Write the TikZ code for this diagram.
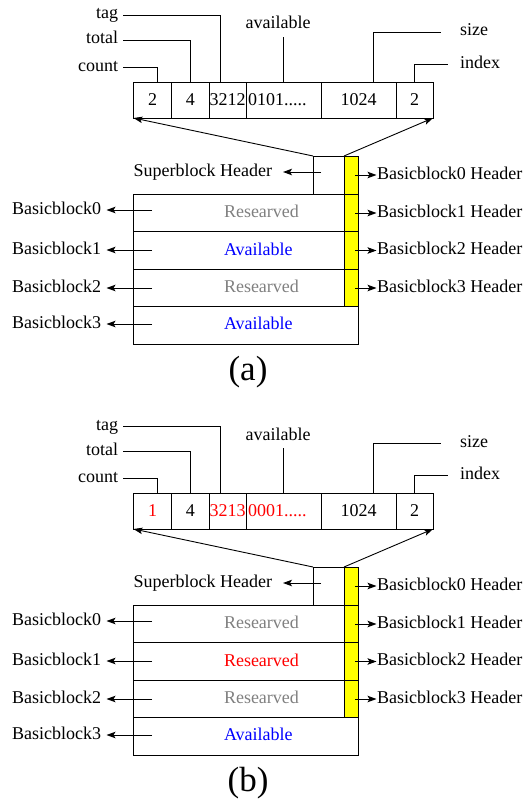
\documentclass[tikz,border=0pt]{standalone}
\usepackage{fontspec}
\setmainfont{Liberation Serif}
\usetikzlibrary{arrows.meta,calc}
\definecolor{resgray}{RGB}{128,128,128}
\definecolor{ylw}{RGB}{255,255,0}
\tikzset{
  cell/.style={draw, line width=1pt, minimum height=36pt, inner sep=0pt, outer sep=0pt},
  box/.style={draw, line width=1pt, inner sep=0pt, outer sep=0pt},
  ybox/.style={box, fill=ylw},
  lbl/.style={inner sep=0pt, outer sep=0pt, text height=12pt, text depth=4pt},
  lead/.style={line width=0.9pt},
  arr/.style={line width=0.9pt, -{Stealth[length=9pt,width=6.5pt,inset=2pt]}},
  captext/.style={inner sep=0pt, font=\fontsize{35}{40}\selectfont},
}
\newcommand\mypanel[7]{%
\begin{scope}[shift={(0,#2)}]
  % header record
  \node[cell, minimum width=38pt]   (#1c1) at (152.5,100)  {#3};
  \node[cell, minimum width=37.5pt] (#1c2) at (190.25,100) {4};
  \node[cell, minimum width=37pt]   (#1c3) at (227.5,100)  {#4};
  \node[cell, minimum width=75pt, text width=71pt, align=left] (#1c4) at (283.5,100) {#5};
  \node[cell, minimum width=75pt]   (#1c5) at (358.5,100)  {1024};
  \node[cell, minimum width=37pt]   (#1c6) at (414.5,100)  {2};
  % field labels
  \node[lbl, anchor=east] (#1tag)   at (118,15) {tag};
  \node[lbl, anchor=east] (#1total) at (118,40) {total};
  \node[lbl, anchor=east] (#1count) at (118,67) {count};
  \node[lbl]              (#1avl)   at (278,25) {available};
  \node[lbl, anchor=west] (#1size)  at (460,32) {size};
  \node[lbl, anchor=west] (#1index) at (460,64) {index};
  \draw[lead] ([xshift=5pt]#1count.east) -| ([xshift=4.5pt]#1c1.north);
  \draw[lead] ([xshift=5pt]#1total.east) -| (#1c2.north);
  \draw[lead] ([xshift=5pt]#1tag.east) -| ([xshift=-7.5pt]#1c3.north);
  \draw[lead] (#1c4.north) -- ([yshift=-4pt]#1c4.north |- #1avl.south);
  \draw[lead] ([xshift=14.5pt]#1c5.north) |- ([xshift=-19pt]#1size.west);
  \draw[lead] (#1c6.north) |- ([xshift=-12pt]#1index.west);
  % block
  \node[box, minimum width=31pt, minimum height=38pt] (#1sb) at (328.5,175) {};
  \node[ybox, minimum width=14.5pt, minimum height=38pt] (#1y0) at (351.25,175) {};
  \node[box, minimum width=210.5pt, minimum height=37.5pt] (#1r0) at (238.75,212.75) {};
  \node[box, minimum width=210.5pt, minimum height=37.5pt] (#1r1) at (238.75,250.25) {};
  \node[box, minimum width=210.5pt, minimum height=37.5pt] (#1r2) at (238.75,287.75) {};
  \node[ybox, minimum width=14.5pt, minimum height=37.5pt] (#1y1) at (351.25,212.75) {};
  \node[ybox, minimum width=14.5pt, minimum height=37.5pt] (#1y2) at (351.25,250.25) {};
  \node[ybox, minimum width=14.5pt, minimum height=37.5pt] (#1y3) at (351.25,287.75) {};
  \node[box, minimum width=225pt, minimum height=37.5pt] (#1r3) at (246,325.25) {};
  \node[lbl, anchor=west, text=resgray] (#1t0) at (224,213.5) {Researved};
  \node[lbl, anchor=west] (#1t1) at (224,251) {#6};
  \node[lbl, anchor=west, text=resgray] (#1t2) at (224,288.5) {Researved};
  \node[lbl, anchor=west, text=blue] (#1t3) at (224,325.25) {Available};
  % pointers from header record
  \draw[arr] (#1sb.north west) -- (#1c1.south west);
  \draw[arr] (#1y0.north west) -- (#1c6.south east);
  % left labels
  \node[lbl, anchor=east] (#1SH) at (272,172) {Superblock Header};
  \node[lbl, anchor=east] (#1L0) at (101,210) {Basicblock0};
  \node[lbl, anchor=east] (#1L1) at (101,250) {Basicblock1};
  \node[lbl, anchor=east] (#1L2) at (101,288) {Basicblock2};
  \node[lbl, anchor=east] (#1L3) at (101,324) {Basicblock3};
  \draw[arr] ($(#1sb.west |- #1SH.east)+(8,0)$) -- ($(#1SH.east)+(11,0)$);
  \draw[arr] ($(#1r0.west |- #1L0.east)+(18.5,0)$) -- ($(#1L0.east)+(5.5,0)$);
  \draw[arr] ($(#1r1.west |- #1L1.east)+(18.5,0)$) -- ($(#1L1.east)+(5.5,0)$);
  \draw[arr] ($(#1r2.west |- #1L2.east)+(18.5,0)$) -- ($(#1L2.east)+(5.5,0)$);
  \draw[arr] ($(#1r3.west |- #1L3.east)+(18.5,0)$) -- ($(#1L3.east)+(5.5,0)$);
  % right labels
  \node[lbl, anchor=west] (#1R0) at (377,175) {Basicblock0 Header};
  \node[lbl, anchor=west] (#1R1) at (377,213) {Basicblock1 Header};
  \node[lbl, anchor=west] (#1R2) at (377,250.5) {Basicblock2 Header};
  \node[lbl, anchor=west] (#1R3) at (377,288) {Basicblock3 Header};
  \draw[arr] ($(#1y0.center |- #1R0.west)+(4,0)$) -- ($(#1R0.west)+(-0.5,0)$);
  \draw[arr] ($(#1y1.center |- #1R1.west)+(4,0)$) -- ($(#1R1.west)+(-0.5,0)$);
  \draw[arr] ($(#1y2.center |- #1R2.west)+(4,0)$) -- ($(#1R2.west)+(-0.5,0)$);
  \draw[arr] ($(#1y3.center |- #1R3.west)+(4,0)$) -- ($(#1R3.west)+(-0.5,0)$);
  % caption
  \node[captext] (#1cap) at (248,372.5) {#7};
\end{scope}}
\begin{document}
\begin{tikzpicture}[x=1pt,y=-1pt,font=\fontsize{18}{20}\selectfont]
  \useasboundingbox (0,0) rectangle (528,800);
  \mypanel{a}{0}{2}{3212}{0101.....}{\textcolor{blue}{Available}}{(a)}
  \mypanel{b}{411}{\textcolor{red}{1}}{\textcolor{red}{3213}}{\textcolor{red}{0001.....}}{\textcolor{red}{Researved}}{(b)}
\end{tikzpicture}
\end{document}
